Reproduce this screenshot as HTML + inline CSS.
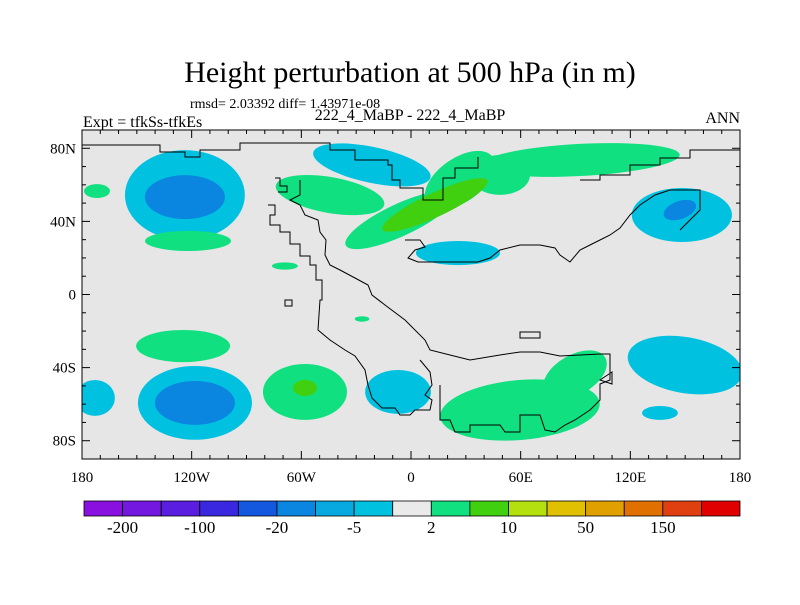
<!DOCTYPE html>
<html><head><meta charset="utf-8"><style>
body{margin:0;background:#fff;}
svg text{font-family:"Liberation Serif",serif;fill:#000;}
</style></head><body>
<svg id="chart" width="800" height="600" viewBox="0 0 800 600">
<text x="410" y="82" font-size="30" text-anchor="middle">Height perturbation at 500 hPa (in m)</text>
<text x="190" y="108" font-size="14">rmsd= 2.03392 diff= 1.43971e-08</text>
<text x="83" y="127" font-size="16">Expt = tfkSs-tfkEs</text>
<text x="410" y="120" font-size="16" text-anchor="middle">222_4_MaBP - 222_4_MaBP</text>
<text x="740" y="123" font-size="16" text-anchor="end">ANN</text>
<defs><clipPath id="pc"><rect x="82" y="130" width="658" height="329"/></clipPath></defs>
<rect x="82" y="130" width="658" height="329" fill="#e6e6e6"/>
<g id="blobs" clip-path="url(#pc)"></g>
<path clip-path="url(#pc)" fill="none" stroke="#000" stroke-width="1" d="
M82,145 L160,145 L160,152 L185,152 L185,157 L200,157 L200,150 L240,150 L240,143 L330,143 L330,150 L355,150 L355,160 L388,160 L388,165 L392,165 L392,180 L400,180 L400,188 L423,188 L423,200 L443,200 L443,179 L443,178 L455,178 L455,168 L478,168 L478,157
M275,178 L280,178 L280,186 L287,186 L287,192 L278,192
M268,205 L275,205 L275,215 L270,215 L270,225 L280,225 L280,232 L290,232 L290,244 L300,244 L300,256 L310,256 L310,265 L316,265 L316,280 L322,280 L322,300 L320,300 L318,330 L330,340 L345,350 L355,356 L365,370 L368,385 L372,398 L382,408 L395,408 L400,415 L410,415 L415,410 L430,410 L432,400 L425,395 L432,385 L430,372 L420,360
M300,180 L300,195 L290,200 L300,205 L305,215 L318,220 L320,232 L326,240 L325,255 L330,265 L340,270 L355,278 L368,285 L372,295 L385,305 L405,320 L425,340 L430,350 L450,355 L470,360 L500,355 L520,352 L540,352 L560,356 L580,355 L600,354 L610,354 L610,380 L600,384 L600,400 L590,410 L575,420 L565,425 L555,432 L545,430 L540,415 L520,415 L520,432 L505,432 L500,425 L470,425 L470,432 L455,432 L450,420 L440,420 L440,385
M405,240 L420,240 L425,247 L415,250 L408,258 L418,262 L440,262 L460,262 L478,262 L490,258 L500,250 L520,245 L540,245 L555,248 L560,255 L570,262 L580,250 L590,245 L600,240 L610,235 L620,228 L630,215 L640,205 L655,195 L670,190 L700,190 L700,210 L690,220 L680,230
M580,180 L600,180 L600,175 L630,175 L630,165 L660,165 L660,158 L690,158 L690,150 L740,150
M520,332 L540,332 L540,338 L520,338 Z
M285,300 L292,300 L292,306 L285,306 Z
M600,380 L612,384 L612,372 Z"/>
<rect x="82" y="130" width="658" height="329" fill="none" stroke="#000" stroke-width="1"/>
<g id="axes"></g>
<g id="colorbar"></g>
</svg>
<script>
// blob data: lon, lat, radius lon (deg), radius lat (deg), level index, rotation
const blobLon  = [-123.7,-171.8,-122,-69,-21.4,-44.3,-6,26.8,92.4,48.7,25.7,148.2,-26.8,-124.7,-118.2,-172.9,-58,-7.1,59.6,89.7,149.9,136.2, -123.7,13.1,147.1,-118.2,-58];
const blobLat  = [54.4,56.6,29.3,15.6,70.9,54.4,40.8,62.6,73.6,65.4,22.7,43.5,-13.4,-28.2,-59.3,-56.6,-53.3,-53.3,-63.2,-44,-38.6,-64.8, 53.3,49,46.2,-59.3,-51.1];
const blobRx   = [32.8,7.1,23.5,7.1,32.8,30.1,32.8,21.9,54.7,16.4,23,27.4,4,25.7,31.2,10.9,23,18,43.8,19.1,31.7,9.8, 21.9,31.7,9.3,21.9,6.6];
const blobRy   = [24.6,3.8,5.5,2,9.8,9.8,8.8,12,8.8,10.9,6.6,14.8,1.5,8.8,20.2,9.8,15.3,12,16.4,10.9,15.3,3.8, 12,6.6,4.9,12,4.4];
const blobLevel= [7,9,9,9,7,9,9,9,9,9,7,7,9,9,7,7,9,7,9,9,7,7, 5,10,5,5,10];
const blobRot  = [0,0,0,0,12,10,-25,-35,-3,0,0,0,0,0,0,0,0,0,-5,-30,10,0, 0,-25,-20,0,0];
const cbColors = ["#8a10e0","#7418e0","#5a1ee0","#3a28e0","#1458e0","#0a86e0","#08a8e0","#00c2e0","#eaeaea","#10e080","#40d010","#b4e010","#e0c000","#e0a000","#e07000","#e04010","#e00000"];
const cbLabels = ["-200","-100","-20","-5","2","10","50","150"];
const lonTicks = [-180,-120,-60,0,60,120,180];
const lonLabels= ["180","120W","60W","0","60E","120E","180"];
const latTicks = [80,40,0,-40,-80];
const latLabels= ["80N","40N","0","40S","80S"];

const X0=82,X1=740,Y0=130,Y1=459;
const sx=lon=>X0+(lon+180)/360*(X1-X0);
const sy=lat=>Y0+(90-lat)/180*(Y1-Y0);
const kx=(X1-X0)/360, ky=(Y1-Y0)/180;
const NS="http://www.w3.org/2000/svg";
const mk=(t,a,p)=>{const e=document.createElementNS(NS,t);for(const k in a)e.setAttribute(k,a[k]);p.appendChild(e);return e;};

const bg=document.getElementById('blobs');
for(let i=0;i<blobLon.length;i++){
  const cx=sx(blobLon[i]), cy=sy(blobLat[i]);
  const e=mk('ellipse',{cx:cx,cy:cy,rx:blobRx[i]*kx,ry:blobRy[i]*ky,fill:cbColors[blobLevel[i]],transform:`rotate(${blobRot[i]} ${cx} ${cy})`},bg);
  
  
}

const ax=document.getElementById('axes');
for(let lon=-180;lon<=180;lon+=10){
  const x=sx(lon), major=lon%60===0, L=major?8:4;
  mk('line',{x1:x,y1:Y1,x2:x,y2:Y1-L,stroke:'#000'},ax);
  mk('line',{x1:x,y1:Y0,x2:x,y2:Y0+L,stroke:'#000'},ax);
}
for(let lat=-90;lat<=90;lat+=10){
  const y=sy(lat), major=(lat%40===0), L=major?8:4;
  mk('line',{x1:X0,y1:y,x2:X0+L,y2:y,stroke:'#000'},ax);
  mk('line',{x1:X1,y1:y,x2:X1-L,y2:y,stroke:'#000'},ax);
}
lonTicks.forEach((v,i)=>{
  const t=mk('text',{x:sx(v),y:482,'font-size':15,'text-anchor':'middle'},ax);
  t.textContent=lonLabels[i];
  
  
});
latTicks.forEach((v,i)=>{
  const t=mk('text',{x:X0-6,y:sy(v)+5,'font-size':15,'text-anchor':'end'},ax);
  t.textContent=latLabels[i];
  
  
});

const cb=document.getElementById('colorbar');
const CX0=84,CX1=740,CY=501,CH=15,bw=(CX1-CX0)/cbColors.length;
cbColors.forEach((c,i)=>{
  const r=mk('rect',{x:CX0+i*bw,y:CY,width:bw,height:CH,fill:c,stroke:'#000','stroke-width':0.8},cb);
  
  
});
cbLabels.forEach((s,i)=>{
  const t=mk('text',{x:CX0+(2*i+1)*bw,y:533,'font-size':17,'text-anchor':'middle'},cb);
  t.textContent=s;
  
  
});
</script>
</body></html>
